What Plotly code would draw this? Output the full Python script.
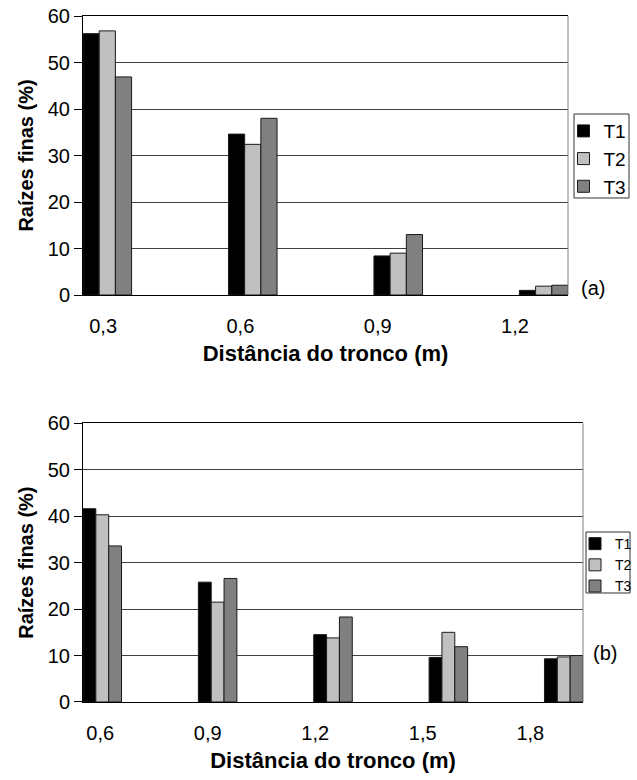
import plotly.graph_objects as go

# ---- data ----
series = ["T1", "T2", "T3"]
colors = ["#000000", "#C0C0C0", "#808080"]

dist_a = [0.3, 0.6, 0.9, 1.2]
labels_a = ["0,3", "0,6", "0,9", "1,2"]
vals_a = {
    "T1": [56.2, 34.6, 8.4, 1.0],
    "T2": [56.8, 32.4, 9.0, 1.9],
    "T3": [46.9, 38.0, 13.0, 2.1],
}

dist_b = [0.6, 0.9, 1.2, 1.5, 1.8]
labels_b = ["0,6", "0,9", "1,2", "1,5", "1,8"]
vals_b = {
    "T1": [41.6, 25.8, 14.5, 9.6, 9.3],
    "T2": [40.3, 21.5, 13.8, 15.0, 9.7],
    "T3": [33.6, 26.6, 18.3, 11.9, 10.0],
}

y_ticks = [0, 10, 20, 30, 40, 50, 60]
x_title = "Distância do tronco (m)"
y_title = "Raízes finas (%)"

FONT = "Liberation Sans, Arial, sans-serif"
BARGAP = 0.666
step = 0.3
half = step * (1 - BARGAP) / 2

fig = go.Figure()
for s, c in zip(series, colors):
    fig.add_trace(go.Bar(x=dist_a, y=vals_a[s], name=s, marker_color=c,
                         marker_line=dict(color="#1a1a1a", width=1),
                         xaxis="x", yaxis="y", legend="legend"))
for s, c in zip(series, colors):
    fig.add_trace(go.Bar(x=dist_b, y=vals_b[s], name=s, marker_color=c,
                         marker_line=dict(color="#1a1a1a", width=1),
                         xaxis="x3", yaxis="y2", legend="legend2"))
# tick-label carrier traces (no visible marks)
fig.add_trace(go.Scatter(x=dist_a, y=[None] * len(dist_a), xaxis="x2", yaxis="y",
                         showlegend=False, hoverinfo="skip", mode="markers"))
fig.add_trace(go.Scatter(x=dist_b, y=[None] * len(dist_b), xaxis="x4", yaxis="y2",
                         showlegend=False, hoverinfo="skip", mode="markers"))

tickfont = dict(family=FONT, size=20, color="black")
titlefont_x = dict(family=FONT, size=22, color="black", weight="bold")
titlefont_y = dict(family=FONT, size=20, color="black", weight="bold")

bar_x_common = dict(type="linear", showticklabels=False, ticks="", showgrid=False,
                    zeroline=False, showline=True, linecolor="black", linewidth=1,
                    mirror=True)
lab_x_common = dict(type="linear", showgrid=False, zeroline=False, showline=False,
                    ticks="outside", ticklen=13, tickcolor="rgba(0,0,0,0)",
                    tickfont=tickfont, side="bottom",
                    title=dict(text=x_title, font=titlefont_x, standoff=9))
y_common = dict(range=[0, 60], tickvals=y_ticks, showgrid=True, gridcolor="#404040",
                gridwidth=1, zeroline=False, showline=True, linecolor="black",
                linewidth=1, ticks="outside", ticklen=8, tickcolor="black",
                tickfont=tickfont,
                title=dict(text=y_title, font=titlefont_y, standoff=8))

fig.update_layout(
    width=637, height=780,
    margin=dict(l=83, r=54, t=16, b=78, autoexpand=False),
    paper_bgcolor="white", plot_bgcolor="white",
    barmode="group", bargap=BARGAP, bargroupgap=0,
    xaxis=dict(**bar_x_common, domain=[0, 0.970], anchor="y",
               range=[min(dist_a) - half, max(dist_a) + half]),
    xaxis2=dict(**lab_x_common, overlaying="x", anchor="y",
                range=[0.256, 1.316], tickvals=dist_a, ticktext=labels_a),
    xaxis3=dict(**bar_x_common, domain=[0, 1], anchor="y2",
                range=[min(dist_b) - half, max(dist_b) + half]),
    xaxis4=dict(**lab_x_common, overlaying="x3", anchor="y2",
                range=[0.552, 1.947], tickvals=dist_b, ticktext=labels_b),
    yaxis=dict(**y_common, domain=[0.5933, 1.0], anchor="x"),
    yaxis2=dict(**y_common, domain=[0.0, 0.4063], anchor="x3"),
    legend=dict(x=0.961, y=0.860, xanchor="left", yanchor="top",
                borderwidth=0, bgcolor="rgba(0,0,0,0)",
                font=dict(family=FONT, size=19, color="black"),
                itemwidth=30, tracegroupgap=0),
    legend2=dict(x=0.984, y=0.2536, xanchor="left", yanchor="top",
                 borderwidth=0, bgcolor="rgba(0,0,0,0)",
                 font=dict(family=FONT, size=14, color="black"),
                 itemwidth=30, tracegroupgap=0),
    annotations=[
        dict(text="(a)", x=1.02, y=0.6035, xref="paper", yref="paper",
             xanchor="center", yanchor="middle",
             showarrow=False, font=dict(family=FONT, size=20, color="black")),
        dict(text="(b)", x=1.044, y=0.0714, xref="paper", yref="paper",
             xanchor="center", yanchor="middle",
             showarrow=False, font=dict(family=FONT, size=20, color="black")),
    ],
    shapes=[
        dict(type="line", xref="x domain", yref="y domain", x0=1, x1=1, y0=0, y1=1,
             line=dict(color="#808080", width=1)),
        dict(type="line", xref="x3 domain", yref="y2 domain", x0=1, x1=1, y0=0, y1=1,
             line=dict(color="#808080", width=1)),
        # legend frames
        dict(type="rect", xref="paper", yref="paper", x0=0.982, x1=1.092,
             y0=0.7347, y1=0.8571, line=dict(color="#333333", width=1)),
        dict(type="rect", xref="paper", yref="paper", x0=1.006, x1=1.094,
             y0=0.1589, y1=0.2478, line=dict(color="#333333", width=1)),
    ],
)

fig.write_html("out.html", config={"displayModeBar": False},
               post_script="document.body.style.margin='0';")
